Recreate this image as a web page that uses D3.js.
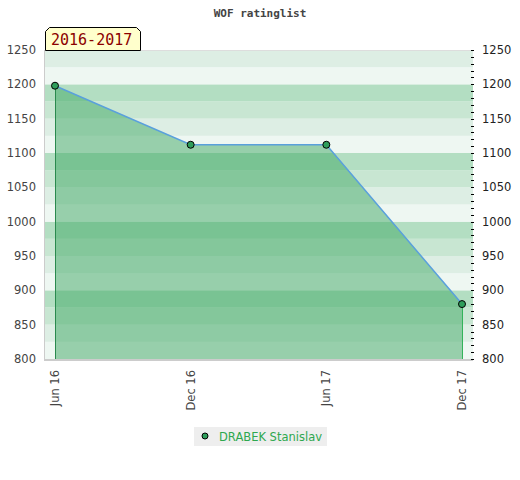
<!DOCTYPE html>
<html><head><meta charset="utf-8">
<script src="https://cdn.jsdelivr.net/npm/d3@7/dist/d3.min.js"></script>
<style>body{margin:0;background:#fff}</style>
</head><body>
<svg id="c" width="520" height="480"></svg>
<script>
const categories = ["Jun 16", "Dec 16", "Jun 17", "Dec 17"];
const ratings = [1198, 1112, 1112, 880];
const yTicks = [800, 850, 900, 950, 1000, 1050, 1100, 1150, 1200, 1250];
const bandColors = ["#eef7f2", "#ddeee4", "#c8e6d2", "#b3dec2"];
const seriesName = "DRABEK Stanislav";
const periodLabel = "2016-2017";
const titleText = "WOF ratinglist";

const svg = d3.select("#c");
const L = 45, R = 473, T = 50, B = 359;
const y = d3.scaleLinear().domain([800, 1250]).range([B, T]);
const x = d3.scalePoint().domain(categories).range([55, 462]);

// bands
const bands = d3.range(800, 1250, 25);
svg.append("g").selectAll("rect").data(bands).join("rect")
  .attr("x", L).attr("width", R - L)
  .attr("y", d => y(d + 25)).attr("height", d => y(d) - y(d + 25))
  .attr("fill", (d, i) => bandColors[i % 4]);

// borders
svg.append("line").attr("x1", L).attr("x2", R).attr("y1", T + 0.5).attr("y2", T + 0.5).attr("stroke", "#ddd");
svg.append("line").attr("x1", L - 0.5).attr("x2", L - 0.5).attr("y1", T).attr("y2", B + 1).attr("stroke", "#ccc");
svg.append("line").attr("x1", L - 1).attr("x2", R).attr("y1", B + 1).attr("y2", B + 1).attr("stroke", "#ccc").attr("stroke-width", 2);

const pts = categories.map((c, i) => ({c, v: ratings[i]}));
// area
svg.append("path").datum(pts)
  .attr("d", d3.area().x(d => x(d.c)).y0(B).y1(d => y(d.v)))
  .attr("fill", "#3fa864").attr("fill-opacity", 0.5);
// drop lines
svg.append("line").attr("x1", x(categories[0]) + 0.5).attr("x2", x(categories[0]) + 0.5)
  .attr("y1", y(ratings[0])).attr("y2", B).attr("stroke", "#2a8a4e").attr("stroke-width", 1);
const li = categories.length - 1;
svg.append("line").attr("x1", x(categories[li]) + 0.5).attr("x2", x(categories[li]) + 0.5)
  .attr("y1", y(ratings[li])).attr("y2", B).attr("stroke", "#33b35a").attr("stroke-width", 1);
// line
svg.append("path").datum(pts)
  .attr("d", d3.line().x(d => x(d.c)).y(d => y(d.v)))
  .attr("fill", "none").attr("stroke", "#5aa0dc").attr("stroke-width", 1.5);
// markers
svg.append("g").selectAll("circle").data(pts).join("circle")
  .attr("cx", d => x(d.c)).attr("cy", d => y(d.v)).attr("r", 3.5)
  .attr("fill", "#2e9e5b").attr("stroke", "#000").attr("stroke-width", 1);

// left axis labels
svg.append("g").selectAll("text").data(yTicks).join("text")
  .attr("x", 36).attr("y", d => y(d) + 4).attr("text-anchor", "end")
  .attr("font-family", "DejaVu Sans").attr("font-size", 11.5).attr("fill", "#444").text(d => d);
// right axis
const ra = svg.append("g").attr("transform", `translate(${R},0)`);
ra.selectAll("line").data(d3.range(800, 1251, 10)).join("line")
  .attr("x1", -2).attr("x2", 1).attr("y1", d => Math.round(y(d)) + 0.5).attr("y2", d => Math.round(y(d)) + 0.5)
  .attr("stroke", "#000");
ra.selectAll("text").data(yTicks).join("text")
  .attr("x", 9).attr("y", d => y(d) + 4)
  .attr("font-family", "DejaVu Sans").attr("font-size", 11.5).attr("fill", "#222").text(d => d);

// x labels
svg.append("g").selectAll("text").data(categories).join("text")
  .attr("transform", d => `translate(${x(d) + 4},370) rotate(-90)`)
  .attr("text-anchor", "end")
  .attr("font-family", "DejaVu Sans").attr("font-size", 11.5).attr("fill", "#444").text(d => d);

// title
svg.append("text").attr("x", 260).attr("y", 17).attr("text-anchor", "middle")
  .attr("font-family", "DejaVu Sans Mono").attr("font-weight", "bold").attr("font-size", 11).attr("fill", "#444").text(titleText);

// period label box
const bx0 = 45.5, bx1 = 140.5, by0 = 27.5, by1 = 50.5, cc = 4;
svg.append("path")
  .attr("d", `M${bx0},${by1} L${bx0},${by0 + cc} L${bx0 + cc},${by0} L${bx1 - cc},${by0} L${bx1},${by0 + cc} L${bx1},${by1} Z`)
  .attr("fill", "#ffffcc").attr("stroke", "#000").attr("stroke-width", 1);
svg.append("text").attr("x", 51).attr("y", 45)
  .attr("font-family", "DejaVu Sans Mono").attr("font-size", 15).attr("fill", "#8b0000").text(periodLabel);

// legend
svg.append("rect").attr("x", 194).attr("y", 427).attr("width", 133).attr("height", 19).attr("fill", "#eeeeee");
svg.append("circle").attr("cx", 205).attr("cy", 436).attr("r", 3).attr("fill", "#2e9e5b").attr("stroke", "#000");
svg.append("text").attr("x", 219).attr("y", 440.5)
  .attr("font-family", "DejaVu Sans").attr("font-size", 11.5).attr("fill", "#2ea84f").text(seriesName);
</script>
</body></html>
